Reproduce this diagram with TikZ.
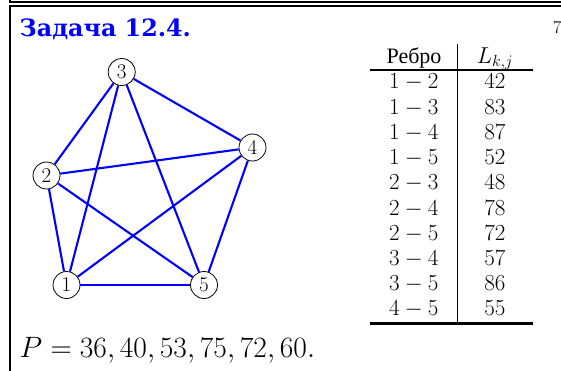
\RequirePackage{fix-cm}
\documentclass[tikz,border=0pt]{standalone}
\usepackage{fontspec}
\newfontfamily\cyrserif{Liberation Serif}
\newfontfamily\cyrtitle{DejaVu Serif}
\begin{document}
\begin{tikzpicture}[x=1pt,y=-1pt,
  vtx/.style={circle,draw=black,line width=0.8pt,fill=white,inner sep=0pt,minimum size=27pt,font=\fontsize{21}{21}\selectfont},
  edge/.style={draw=blue,line width=2.1pt},
  cell/.style={anchor=base,inner sep=0pt,font=\fontsize{23}{23}\selectfont},
  frameline/.style={line width=1.8pt}]
\useasboundingbox (0,0) rectangle (561,371);
% frame
\draw[frameline] (10,0) -- (10,1.7) -- (561,1.7);
\draw[frameline] (561,5.8) -- (10,5.8) -- (10,371);
% title
\node[anchor=base west,inner sep=0pt,text=blue,font=\cyrtitle\bfseries\fontsize{23.8}{24}\selectfont] (title) at (19.5,36.5) {Задача 12.4.};
\node[anchor=base west,inner sep=0pt,font=\fontsize{18}{18}\selectfont] (pg) at (553,33.5) {$7$};
% graph
\node[vtx] (n3) at (121.7,72) {$3$};
\node[vtx] (n4) at (252.5,147.5) {$4$};
\node[vtx] (n2) at (46.5,175.5) {$2$};
\node[vtx] (n1) at (66.5,285) {$1$};
\node[vtx] (n5) at (204,285) {$5$};
\foreach \a/\b in {n1/n2,n1/n3,n1/n4,n1/n5,n2/n3,n2/n4,n2/n5,n3/n4,n3/n5,n4/n5}
  \draw[edge] (\a) -- (\b);
% table
\node[cell,font=\cyrserif\fontsize{22}{22}\selectfont] (h1) at (414,63.5) {Ребро};
\node[cell] (h2) at (495,63.5) {$L_{k,j}$};
\draw[line width=1.3pt] (370,70) -- (533,70);
\draw[line width=1.2pt] (457.7,44) -- (457.7,323);
\draw[line width=2.6pt] (370,323.3) -- (533,323.3);
\foreach [count=\i from 0] \e/\v in {1-2/42,1-3/83,1-4/87,1-5/52,2-3/48,2-4/78,2-5/72,3-4/57,3-5/86,4-5/55}{
  \node[cell] (e\i) at (413.7,{89+25.2*\i}) {$\e$};
  \node[cell] (v\i) at (495,{89+25.2*\i}) {$\v$};
}
% P line
\node[anchor=base west,inner sep=0pt,font=\fontsize{29.5}{30}\selectfont] (pline) at (19.5,357.5) {$P=36,40,53,75,72,60.$};
\end{tikzpicture}
\end{document}
